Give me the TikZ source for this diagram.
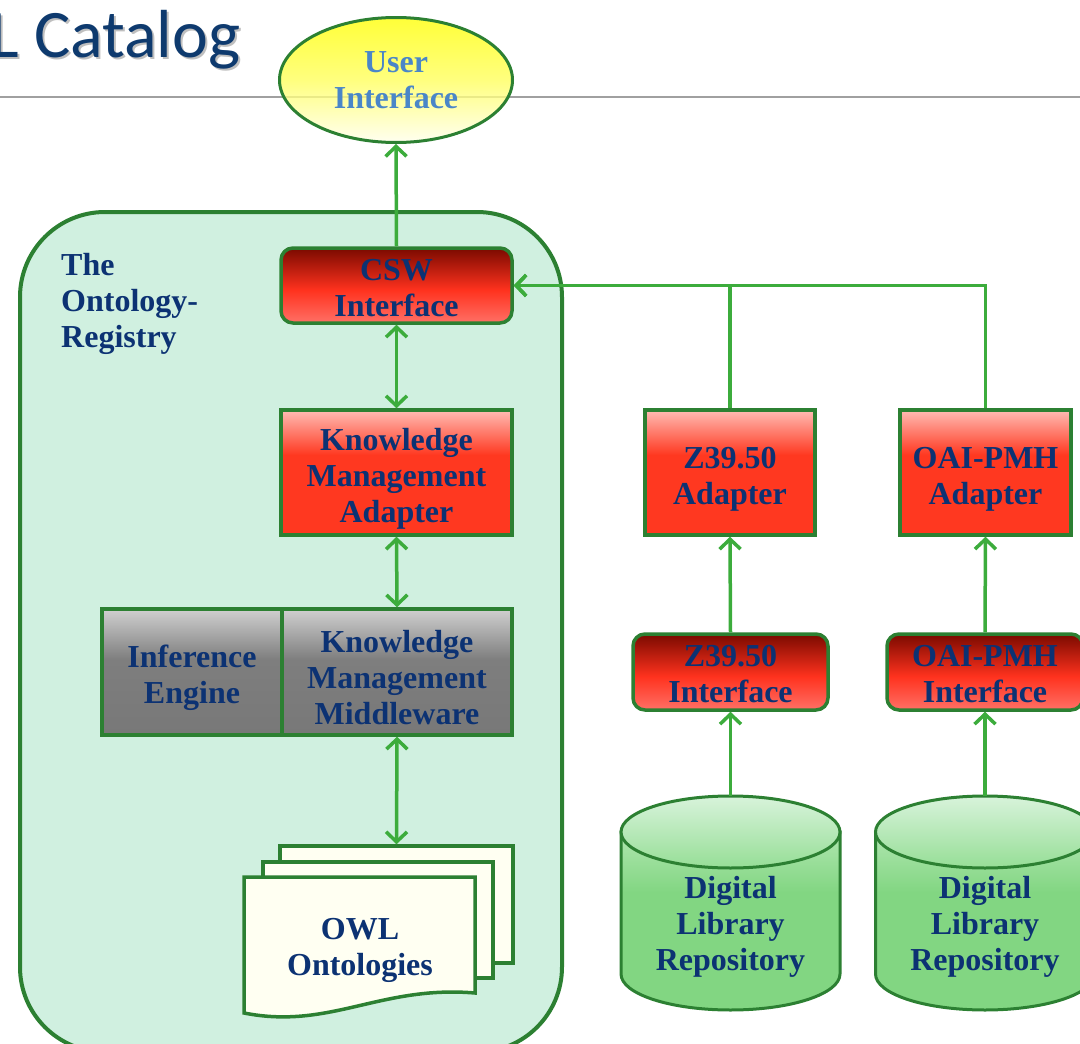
\documentclass[tikz,border=0pt]{standalone}
\usepackage{fontspec}
\setmainfont{Liberation Serif}
\newfontfamily\titlefont{Carlito}
\usetikzlibrary{arrows.meta,shapes.geometric}

% palette
\definecolor{navy}{RGB}{12,50,115}
\definecolor{uiblue}{RGB}{74,134,200}
\definecolor{titleblue}{RGB}{14,58,110}
\definecolor{boxgreen}{RGB}{44,128,50}
\definecolor{arrgreen}{RGB}{60,172,60}
\definecolor{regfill}{RGB}{208,240,224}
\definecolor{ivory}{RGB}{255,255,242}
\definecolor{rulegray}{RGB}{160,160,160}
\definecolor{cswtop}{RGB}{122,10,0}
\definecolor{cswmid}{RGB}{255,50,30}
\definecolor{cswbot}{RGB}{255,112,102}
\definecolor{adtop}{RGB}{255,188,180}
\definecolor{admid}{RGB}{255,56,32}
\definecolor{graytop}{RGB}{208,208,208}
\definecolor{graymid}{RGB}{126,126,126}
\definecolor{graybot}{RGB}{120,120,120}
\definecolor{uitop}{RGB}{255,255,0}
\definecolor{uimid}{RGB}{255,255,90}
\definecolor{uibot}{RGB}{255,255,236}
\definecolor{cyltopA}{RGB}{216,243,219}
\definecolor{cyltopB}{RGB}{150,222,150}
\definecolor{cylbodyA}{RGB}{176,230,176}
\definecolor{cylbodyB}{RGB}{130,214,130}

% vertical shadings (the box is mapped onto 25bp..75bp)
\pgfdeclareverticalshading{cswshade}{100bp}{color(0bp)=(cswbot); color(25bp)=(cswbot); color(47bp)=(cswmid); color(75bp)=(cswtop); color(100bp)=(cswtop)}
\pgfdeclareverticalshading{adshade}{100bp}{color(0bp)=(admid); color(25bp)=(admid); color(57bp)=(admid); color(75bp)=(adtop); color(100bp)=(adtop)}
\pgfdeclareverticalshading{grayshade}{100bp}{color(0bp)=(graybot); color(25bp)=(graybot); color(55bp)=(graymid); color(75bp)=(graytop); color(100bp)=(graytop)}
\pgfdeclareverticalshading{uishade}{100bp}{color(0bp)=(uibot); color(25bp)=(uibot); color(50bp)=(uimid); color(75bp)=(uitop); color(100bp)=(uitop)}
\pgfdeclareverticalshading{cyltop}{100bp}{color(0bp)=(cyltopB); color(25bp)=(cyltopB); color(75bp)=(cyltopA); color(100bp)=(cyltopA)}
\pgfdeclareverticalshading{cylbody}{100bp}{color(0bp)=(cylbodyB); color(25bp)=(cylbodyB); color(58bp)=(cylbodyB); color(75bp)=(cylbodyA); color(100bp)=(cylbodyA)}

% tall first lines: lower a centred block of text a little
\newcommand\tallstart{\rule{0pt}{34pt}}
\newcommand\midstart{\rule{0pt}{26pt}}

\tikzset{
  lbl/.style={font=\bfseries\fontsize{32}{36}\selectfont, text=navy, align=center, inner sep=0pt},
  redround/.style={lbl, draw=boxgreen, line width=3.5pt, rounded corners=12pt, shade, shading=cswshade},
  redsq/.style={lbl, draw=boxgreen, line width=3.5pt, shade, shading=adshade},
  graybox/.style={lbl, draw=boxgreen, line width=3.5pt, shade, shading=grayshade},
  page/.style={draw=boxgreen, line width=3.5pt, fill=ivory, inner sep=0pt},
  arr/.style={draw=arrgreen, line width=3.5pt, -{Straight Barb[length=10pt,width=21pt]}},
  darr/.style={draw=arrgreen, line width=3.5pt, {Straight Barb[length=10pt,width=21pt]}-{Straight Barb[length=10pt,width=21pt]}}
}

% cylinder store: #1 name, #2 centre x
\newcommand\librepo[2]{%
  \shadedraw[shading=cylbody, draw=boxgreen, line width=3pt]
    ({#2-109.5},832) -- ({#2-109.5},974)
    .. controls ({#2-109.5},993.9) and ({#2-60.5},1010) .. (#2,1010)
    .. controls ({#2+60.5},1010) and ({#2+109.5},993.9) .. ({#2+109.5},974)
    -- ({#2+109.5},832) -- cycle;
  \shadedraw[shading=cyltop, draw=boxgreen, line width=3pt]
    (#2,832) ellipse [x radius=109.5, y radius=36];
  \node[minimum width=219pt, minimum height=214pt, inner sep=0pt] (#1) at (#2,903) {};
  \node[lbl] (#1text) at (#2,921) {\tallstart Digital\\Library\\Repository};
}

\begin{document}
\begin{tikzpicture}[x=1pt, y=-1pt]
\useasboundingbox (0,0) rectangle (1080,1044);
\clip (0,0) rectangle (1080,1044);

% heading and rule
\node[anchor=base west, inner sep=0pt, text=black, opacity=0.25,
      font=\titlefont\fontsize{68}{80}\selectfont] (titleshadow) at (-8,59) {L Catalog};
\node[anchor=base west, inner sep=0pt, text=titleblue,
      font=\titlefont\fontsize{68}{80}\selectfont] (title) at (-10,57) {L Catalog};
\draw[rulegray, line width=2pt] (0,97) -- (1080,97);

% registry container
\node[draw=boxgreen, line width=4pt, fill=regfill, rounded corners=85pt,
      minimum width=542pt, minimum height=840pt, anchor=north west, inner sep=0pt]
      (registry) at (18,210) {};
\node[lbl, align=left, anchor=north west] (reglabel) at (61,253) {The\\Ontology-\\Registry};

% user interface
\node[ellipse, draw=boxgreen, line width=3pt, shade, shading=uishade, fill opacity=0.78,
      text opacity=1, minimum width=233pt, minimum height=125pt, inner sep=0pt,
      font=\bfseries\fontsize{32}{36}\selectfont, text=uiblue, align=center]
      (ui) at (396,80) {User\\Interface};

% registry internals
\node[redround, minimum width=231pt, minimum height=75pt] (csw) at (396.5,285.5) {\midstart CSW\\Interface};
\node[redsq, minimum width=231pt, minimum height=125pt] (kma) at (396.5,472.5) {\tallstart Knowledge\\Management\\Adapter};
\node[graybox, minimum width=180pt, minimum height=126pt] (ie) at (192,672) {\tallstart Inference\\Engine};
\node[graybox, minimum width=230pt, minimum height=126pt] (kmm) at (397,672) {\tallstart Knowledge\\Management\\Middleware};

% stacked ontology documents
\node[page, minimum width=233pt, minimum height=117pt] (owl3) at (396.5,904.5) {};
\node[page, minimum width=230pt, minimum height=116pt] (owl2) at (378,920) {};
\draw[page] (244,877) -- (475,877) -- (475,993)
  .. controls (380,985) and (330,1030) .. (244,1013) -- cycle;
\node[lbl] (owl) at (360,944) {\tallstart OWL\\Ontologies};

% external adapters and interfaces
\node[redsq, minimum width=170pt, minimum height=125pt] (zad) at (730,472.5) {\tallstart Z39.50\\Adapter};
\node[redsq, minimum width=171pt, minimum height=125pt] (oad) at (985.5,472.5) {\tallstart OAI-PMH\\Adapter};
\node[redround, minimum width=195pt, minimum height=76pt] (zint) at (730.5,672) {\midstart Z39.50\\Interface};
\node[redround, minimum width=196pt, minimum height=76pt] (oint) at (985,672) {\midstart OAI-PMH\\Interface};

% repositories
\librepo{zrepo}{730.5}
\librepo{orepo}{985}

% connectors
\draw[arr] (csw.north) -- (ui.south);
\draw[darr] (csw.south) -- (kma.north);
\draw[darr] (kma.south) -- (kmm.north);
\draw[darr] (kmm.south) -- (owl3.north);
\draw[arr] (zad.north) |- (csw.east);
\draw[arr] (oad.north) |- (csw.east);
\draw[arr] (zint.north) -- (zad.south);
\draw[arr] (oint.north) -- (oad.south);
\draw[arr] (zrepo.north) -- (zint.south);
\draw[arr] (orepo.north) -- (oint.south);
\end{tikzpicture}
\end{document}
